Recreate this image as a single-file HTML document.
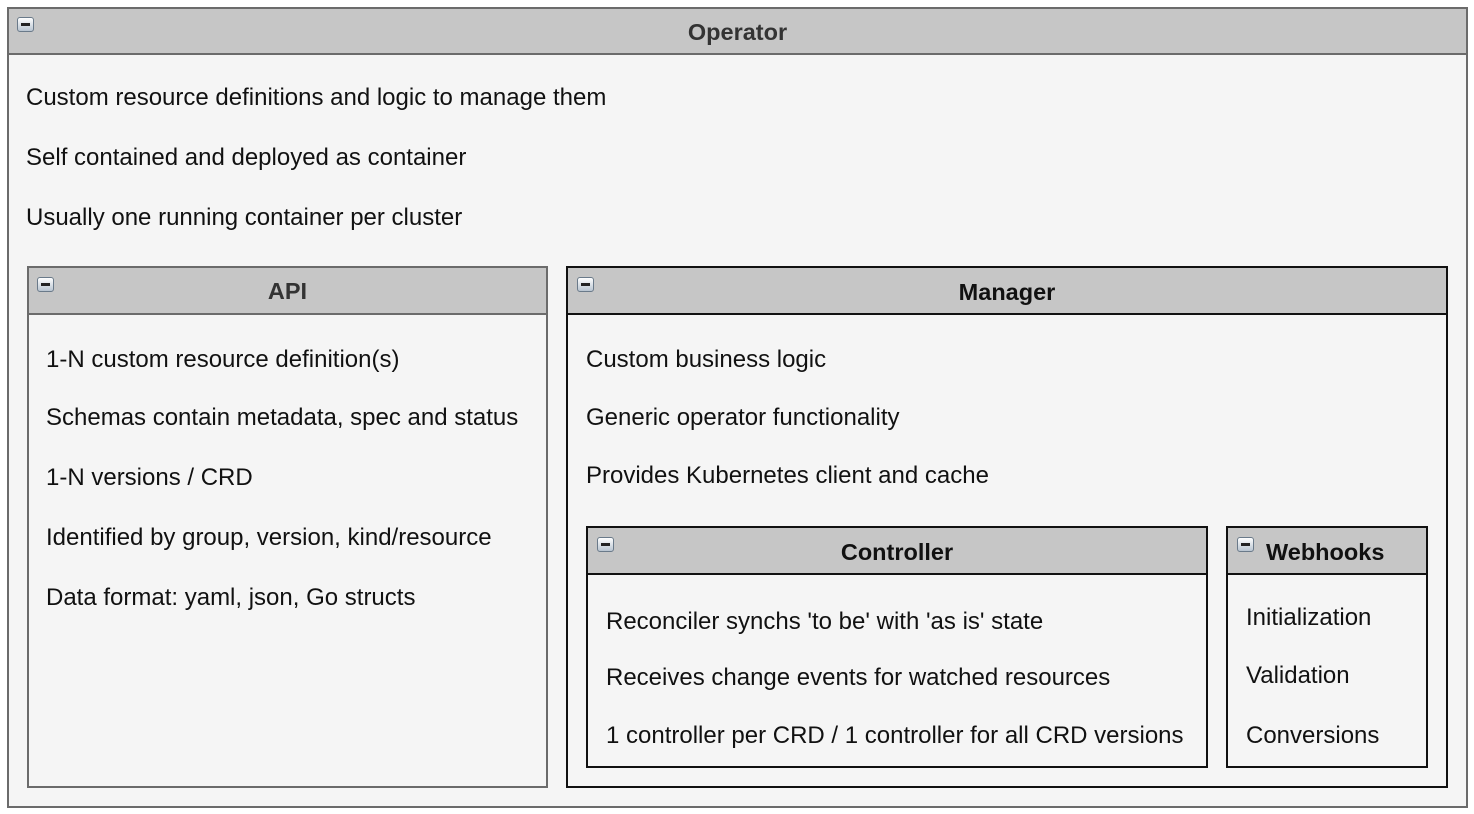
<!DOCTYPE html>
<html><head><meta charset="utf-8"><style>
body{margin:0;width:1474px;height:814px;background:#fff;font-family:"Liberation Sans",Arial,sans-serif;position:relative;overflow:hidden}
.b{position:absolute;box-sizing:border-box;background:#f5f5f5}
.h{position:absolute;left:0;right:0;top:0;background:#c6c6c6;box-sizing:border-box;text-align:center;font-weight:bold;font-size:23.5px}
.ic{position:absolute;width:17px;height:15px;border:1px solid #6a7a8a;border-radius:3px;background:linear-gradient(#fff,#b8c4d0);box-sizing:border-box}
.ic:after{content:"";position:absolute;left:3px;right:3px;top:5px;height:3px;background:#222}
.t{position:absolute;font-size:24px;color:#111;white-space:nowrap;line-height:26px}
</style></head><body>
<div class="b" style="left:7px;top:7px;width:1461px;height:801px;border:2px solid #6b6b6b">
 <div class="h" style="height:46px;line-height:46px;border-bottom:2px solid #6b6b6b;color:#333">Operator</div>
 <div class="ic" style="left:8px;top:8px"></div>
</div>
<div class="t" style="left:26px;top:85px">Custom resource definitions and logic to manage them</div>
<div class="t" style="left:26px;top:145px">Self contained and deployed as container</div>
<div class="t" style="left:26px;top:205px">Usually one running container per cluster</div>

<div class="b" style="left:27px;top:266px;width:521px;height:522px;border:2px solid #6b6b6b">
 <div class="h" style="height:47px;line-height:47px;border-bottom:2px solid #6b6b6b;color:#333">API</div>
 <div class="ic" style="left:8px;top:9px"></div>
</div>
<div class="t" style="left:46px;top:347px">1-N custom resource definition(s)</div>
<div class="t" style="left:46px;top:405px">Schemas contain metadata, spec and status</div>
<div class="t" style="left:46px;top:465px">1-N versions / CRD</div>
<div class="t" style="left:46px;top:525px">Identified by group, version, kind/resource</div>
<div class="t" style="left:46px;top:585px">Data format: yaml, json, Go structs</div>

<div class="b" style="left:566px;top:266px;width:882px;height:522px;border:2px solid #111">
 <div class="h" style="height:47px;line-height:48px;border-bottom:2px solid #111;color:#111">Manager</div>
 <div class="ic" style="left:9px;top:9px"></div>
</div>
<div class="t" style="left:586px;top:347px">Custom business logic</div>
<div class="t" style="left:586px;top:405px">Generic operator functionality</div>
<div class="t" style="left:586px;top:463px">Provides Kubernetes client and cache</div>

<div class="b" style="left:586px;top:526px;width:622px;height:242px;border:2px solid #111">
 <div class="h" style="height:47px;line-height:48px;border-bottom:2px solid #111;color:#111">Controller</div>
 <div class="ic" style="left:9px;top:9px"></div>
</div>
<div class="t" style="left:606px;top:609px">Reconciler synchs 'to be' with 'as is' state</div>
<div class="t" style="left:606px;top:665px">Receives change events for watched resources</div>
<div class="t" style="left:606px;top:723px">1 controller per CRD / 1 controller for all CRD versions</div>

<div class="b" style="left:1226px;top:526px;width:202px;height:242px;border:2px solid #111">
 <div class="h" style="height:47px;line-height:48px;border-bottom:2px solid #111;color:#111;text-align:left;padding-left:38px">Webhooks</div>
 <div class="ic" style="left:9px;top:9px"></div>
</div>
<div class="t" style="left:1246px;top:605px">Initialization</div>
<div class="t" style="left:1246px;top:663px">Validation</div>
<div class="t" style="left:1246px;top:723px">Conversions</div>
</body></html>
